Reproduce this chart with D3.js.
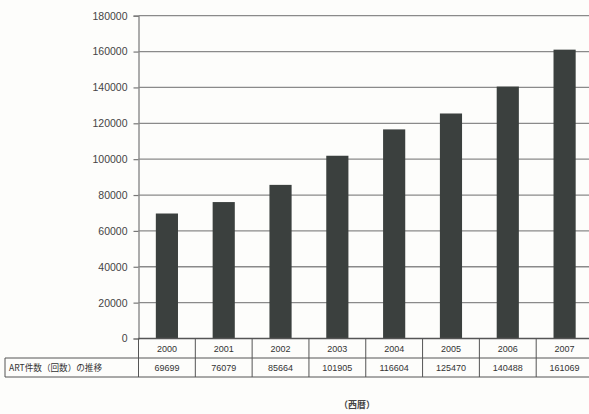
<!DOCTYPE html>
<html>
<head>
<meta charset="utf-8">
<script src="https://cdn.jsdelivr.net/npm/d3@7"></script>
<style>
  html, body { margin: 0; padding: 0; background: #fdfdfb; }
  svg { display: block; }
</style>
</head>
<body>
<svg id="chart" width="589" height="414"></svg>
<script>
// ART cycles per year
const years = ["2000", "2001", "2002", "2003", "2004", "2005", "2006", "2007"];
const cycles = [69699, 76079, 85664, 101905, 116604, 125470, 140488, 161069];
const yTicks = [0, 20000, 40000, 60000, 80000, 100000, 120000, 140000, 160000, 180000];
const rowLabel = "ART件数（回数）の推移";
const xAxisTitle = "（西暦）";

const svg = d3.select("#chart");
const font = "'Liberation Sans', Arial, sans-serif";
const ink = "#333";

const x = d3.scaleBand().domain(years).range([138.5, 593]).paddingInner(0.61).paddingOuter(0.305);
const y = d3.scaleLinear().domain([0, 180000]).range([338.5, 15.7]);

// horizontal gridlines + left ticks
const yAxis = d3.axisLeft(y).tickValues(yTicks).tickSize(5).tickPadding(6).tickFormat(d3.format("d"));
const gy = svg.append("g").attr("transform", "translate(138.5,0)").call(yAxis);
gy.select(".domain").attr("stroke", "#777").attr("stroke-width", 1.2);
gy.selectAll(".tick line").attr("stroke", "#777").attr("stroke-width", 1.2);
gy.selectAll(".tick text").attr("font-family", font).attr("font-size", 10.5).attr("fill", "#444");

svg.append("g").selectAll("line").data(yTicks.filter(d => d > 0)).join("line")
  .attr("x1", 138.5).attr("x2", 589)
  .attr("y1", d => y(d)).attr("y2", d => y(d))
  .attr("stroke", "#8a8a8a").attr("stroke-width", 1.3);

// bars
svg.append("g").selectAll("rect").data(years).join("rect")
  .attr("x", d => x(d))
  .attr("width", x.bandwidth())
  .attr("y", (d, i) => y(cycles[i]))
  .attr("height", (d, i) => y(0) - y(cycles[i]))
  .attr("fill", "#3b403e");

// data table below the axis
const rowTop = y(0), rowMid = 358, rowBot = 377;
const step = x.step();
const colEdges = years.map(d => x(d) - (step - x.bandwidth()) / 2);
const table = svg.append("g").attr("stroke", "#555").attr("stroke-width", 1);
table.append("line").attr("x1", 138.5).attr("x2", 589).attr("y1", rowTop).attr("y2", rowTop).attr("stroke-width", 1.4);
table.append("line").attr("x1", 5).attr("x2", 589).attr("y1", rowMid).attr("y2", rowMid);
table.append("line").attr("x1", 5).attr("x2", 589).attr("y1", rowBot).attr("y2", rowBot);
table.append("line").attr("x1", 5).attr("x2", 5).attr("y1", rowMid).attr("y2", rowBot);
table.selectAll(".v").data(colEdges).join("line").attr("class", "v")
  .attr("x1", d => d).attr("x2", d => d).attr("y1", rowTop).attr("y2", rowBot);

svg.append("g").selectAll("text").data(years).join("text")
  .attr("x", d => x(d) + x.bandwidth() / 2).attr("y", 352)
  .attr("text-anchor", "middle").attr("font-family", font).attr("font-size", 9).attr("fill", ink)
  .text(d => d);

svg.append("g").selectAll("text").data(cycles).join("text")
  .attr("x", (d, i) => x(years[i]) + x.bandwidth() / 2).attr("y", 371)
  .attr("text-anchor", "middle").attr("font-family", font).attr("font-size", 9).attr("fill", ink)
  .text(d => d);

svg.append("text").attr("x", 9).attr("y", 371)
  .attr("font-family", "'Noto Sans CJK JP', sans-serif").attr("font-size", 8.6).attr("fill", ink)
  .text(rowLabel);

svg.append("text").attr("x", 357).attr("y", 408).attr("text-anchor", "middle")
  .attr("font-family", "'Noto Sans CJK JP', sans-serif").attr("font-size", 9).attr("font-weight", "bold").attr("fill", "#444")
  .text(xAxisTitle);
</script>
</body>
</html>
